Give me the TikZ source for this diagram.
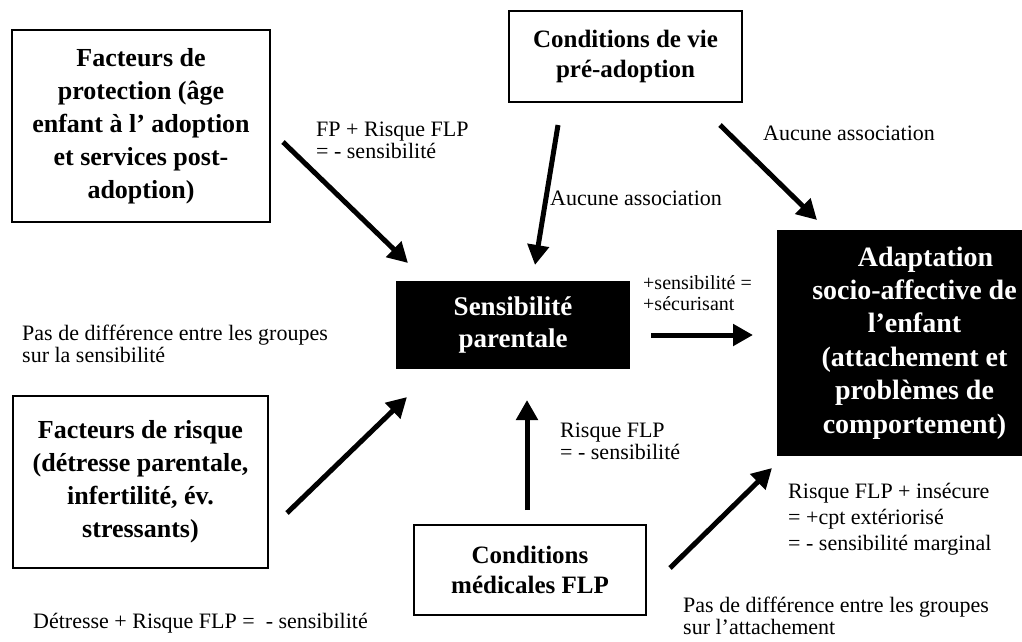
\documentclass[tikz,border=0pt]{standalone}
\usepackage{fontspec}
\setmainfont{Liberation Serif}
\usetikzlibrary{arrows.meta}

\begin{document}
\begin{tikzpicture}[x=1pt,y=-1pt,
  box/.style={draw,line width=1.6pt,align=center,inner sep=0pt,font=\fontsize{26}{33}\selectfont\bfseries},
  smallbox/.style={box,font=\fontsize{25}{30}\selectfont\bfseries},
  blackbox/.style={box,fill=black,text=white},
  arr/.style={line width=5pt,-{Triangle[length=20pt,width=21pt]}},
  note/.style={anchor=west,align=left,inner sep=0pt,font=\fontsize{22}{22}\selectfont},
  smallnote/.style={note,font=\fontsize{20}{21}\selectfont}]
\useasboundingbox (0,0) rectangle (1022,641);
%%%%% Boxes %%%%%
\node[box,minimum width=258pt,minimum height=192pt] (prot) at (141,126)
  {Facteurs de\\protection (âge\\enfant à l’ adoption\\et services post-\\adoption)};
\node[smallbox,minimum width=233pt,minimum height=91pt] (vie) at (625.5,56.5)
  {Conditions de vie\\pré-adoption};
\node[blackbox,minimum width=232pt,minimum height=86pt,font=\fontsize{27}{32}\selectfont\bfseries] (sens) at (513,325)
  {Sensibilité\\parentale};
\node[blackbox,minimum width=243pt,minimum height=224pt,font=\fontsize{28}{33.4}\selectfont\bfseries] (adapt) at (899.5,343)
  {\hspace*{30pt}\begin{tabular}{@{}c@{}}\hspace*{22pt}Adaptation\\socio-affective de\\l’enfant\\(attachement et\\problèmes de\\comportement)\end{tabular}};
\node[box,minimum width=255pt,minimum height=172pt] (risque) at (140.5,482)
  {Facteurs de risque\\(détresse parentale,\\infertilité, év.\\stressants)};
\node[smallbox,minimum width=232pt,minimum height=90pt] (med) at (530,570)
  {Conditions\\médicales FLP};
%%%%% Arrows %%%%%
\coordinate (protOut) at (283,142);   \coordinate (sensInA) at (408,263);
\coordinate (vieOutA) at (558,125);   \coordinate (sensInB) at (535,265);
\coordinate (vieOutB) at (720,125);   \coordinate (adaptInA) at (817,220);
\coordinate (sensOut) at (651,335);   \coordinate (adaptInB) at (753,335);
\coordinate (risqueOut) at (287,513); \coordinate (sensInC) at (407,397);
\coordinate (medOutA) at (527,510);   \coordinate (sensInD) at (527,400);
\coordinate (medOutB) at (670,568);   \coordinate (adaptInC) at (772,468);
\draw[arr] (protOut) -- (sensInA);
\draw[arr] (vieOutA) -- (sensInB);
\draw[arr] (vieOutB) -- (adaptInA);
\draw[arr] (sensOut) -- (adaptInB);
\draw[arr] (risqueOut) -- (sensInC);
\draw[arr] (medOutA) -- (sensInD);
\draw[arr] (medOutB) -- (adaptInC);
%%%%% Labels %%%%%
\node[note] (fpLbl) at (316,140) {FP + Risque FLP\\= - sensibilité};
\node[note] (vieLblA) at (550,198) {Aucune association};
\node[note] (vieLblB) at (763,133) {Aucune association};
\node[smallnote] (sensLbl) at (643,293) {+sensibilité =\\+sécurisant};
\node[note] (groupLblA) at (22,344) {Pas de différence entre les groupes\\sur la sensibilité};
\node[note] (medLblA) at (560,441) {Risque FLP\\= - sensibilité};
\node[note,font=\fontsize{22}{26}\selectfont] (medLblB) at (788,519) {Risque FLP + insécure\\= +cpt extériorisé\\= - sensibilité marginal};
\node[note] (groupLblB) at (683,616) {Pas de différence entre les groupes\\sur l’attachement};
\node[note] (risqueLbl) at (33,623) {Détresse + Risque FLP = \ - sensibilité};
\end{tikzpicture}
\end{document}
